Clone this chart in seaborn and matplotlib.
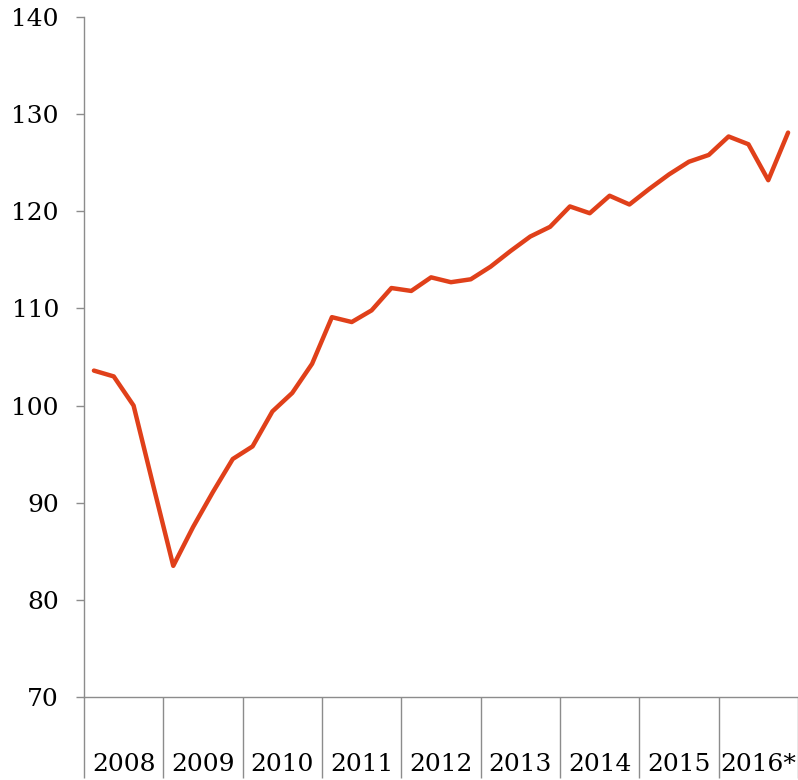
import matplotlib
matplotlib.use("Agg")
import matplotlib.pyplot as plt
import seaborn as sns
import pandas as pd
import numpy as np

# Quarterly index values, 2008 Q1 - 2016 Q4
years = ['2008', '2009', '2010', '2011', '2012', '2013', '2014', '2015', '2016*']
values = [
    103.6, 103.0, 100.0, 91.7,
    83.5, 87.5, 91.1, 94.5,
    95.8, 99.4, 101.3, 104.3,
    109.1, 108.6, 109.8, 112.1,
    111.8, 113.2, 112.7, 113.0,
    114.3, 115.9, 117.4, 118.4,
    120.5, 119.8, 121.6, 120.7,
    122.3, 123.8, 125.1, 125.8,
    127.7, 126.9, 123.2, 128.1,
]

df = pd.DataFrame({'quarter': np.arange(len(values)), 'value': values})

sns.set_style("white")
plt.rcParams['font.family'] = ['DejaVu Serif']

grey = '#8c8c8c'
fig = plt.figure(figsize=(7.98, 7.80), dpi=100)
ax = fig.add_axes([84 / 798, 1 - 697 / 780, 1 - 84 / 798, (697 - 17) / 780])

sns.lineplot(data=df, x='quarter', y='value', ax=ax, color='#e0401a', linewidth=3.2)

ax.set_ylim(70, 140)
ax.set_yticks(range(70, 141, 10))
ax.set_xlim(-0.5, len(values) - 0.5)

# year boundaries as long ticks, year names centred between them
bounds = np.arange(len(years) + 1) * 4 - 0.5
centers = np.arange(len(years)) * 4 + 1.5
ax.set_xticks(bounds)
ax.set_xticklabels([''] * len(bounds))
ax.set_xticks(centers, minor=True)
ax.set_xticklabels(years, minor=True)

ax.tick_params(axis='x', which='major', bottom=True, direction='out', length=58, width=1.0, color=grey)
ax.tick_params(axis='x', which='minor', bottom=True, length=0, pad=40, labelsize=18, labelcolor='black')
ax.tick_params(axis='y', left=True, direction='out', length=6, width=1.0, color=grey, pad=12,
               labelsize=18, labelcolor='black')

ax.set_xlabel('')
ax.set_ylabel('')
for s in ['top', 'right']:
    ax.spines[s].set_visible(False)
for s in ['left', 'bottom']:
    ax.spines[s].set_color(grey)
    ax.spines[s].set_linewidth(1.0)

fig.savefig('out.png', dpi=100)
